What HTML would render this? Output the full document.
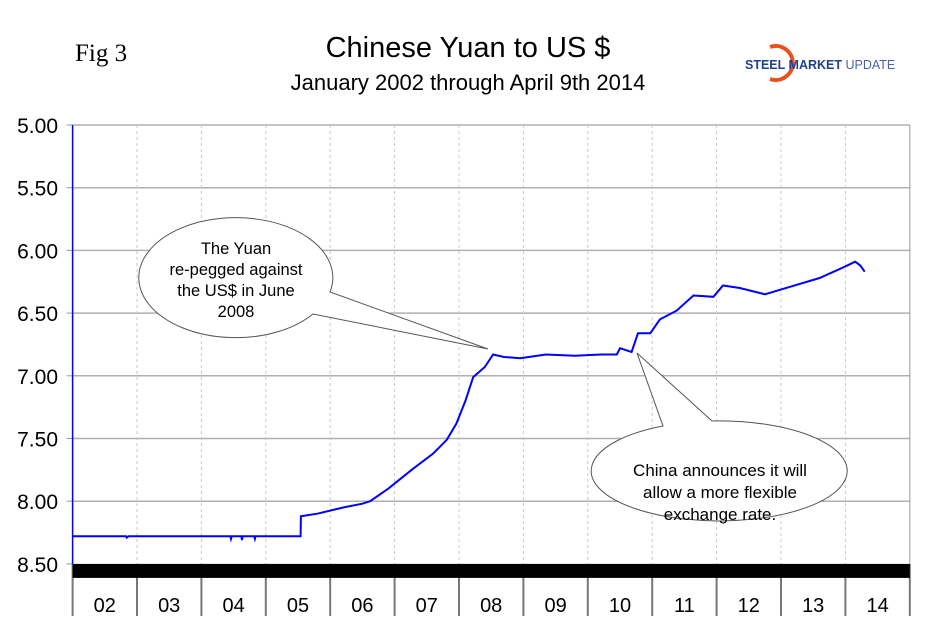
<!DOCTYPE html>
<html><head><meta charset="utf-8"><style>
body{margin:0;background:#fff;}
svg{display:block;font-family:"Liberation Sans",sans-serif;}
</style></head><body>
<svg width="942" height="637" viewBox="0 0 942 637">
<text x="75" y="61" font-family="Liberation Serif,serif" font-size="25">Fig 3</text>
<text x="468" y="57" text-anchor="middle" font-size="29">Chinese Yuan to US $</text>
<text x="468" y="90" text-anchor="middle" font-size="22">January 2002 through April 9th 2014</text>
<g>
<path d="M770 47 A17 17 0 1 1 770 79" fill="none" stroke="#e8501e" stroke-width="4"/>
<text x="745" y="69" font-size="12.5" font-weight="bold" fill="#1f3f8f">STEEL <tspan fill="#1f3f8f">MARKET</tspan> <tspan font-weight="normal" fill="#4a62a8">UPDATE</tspan></text>
</g>
<g id="grid"></g>
<g id="axes"></g>
<path id="series" fill="none" stroke="#0000ff" stroke-width="2"/>
<g>
<path d="M330 292 A97 60 0 1 0 313 314 L488 349 Z" fill="#fff" stroke="#555" stroke-width="1"/>
<text text-anchor="middle" font-size="16.5"><tspan x="236" y="254">The Yuan</tspan><tspan x="236" y="275">re-pegged against</tspan><tspan x="236" y="296">the US$ in June</tspan><tspan x="236" y="317">2008</tspan></text>
</g>
<g>
<path d="M663 426 A128 50 0 1 0 712 421 L637 353 Z" fill="#fff" stroke="#555" stroke-width="1"/>
<text text-anchor="middle" font-size="17"><tspan x="720" y="476">China announces it will</tspan><tspan x="720" y="498">allow a more flexible</tspan><tspan x="720" y="520">exchange rate.</tspan></text>
</g>
</svg>
<script>
const yearTicks=["02","03","04","05","06","07","08","09","10","11","12","13","14"];
const valueTicks=["5.00","5.50","6.00","6.50","7.00","7.50","8.00","8.50"];
const dates=[2002.0,2002.83,2002.84,2002.87,2004.45,2004.46,2004.47,2004.62,2004.63,2004.64,2004.82,2004.83,2004.84,2005.54,2005.545,2005.8,2006.2,2006.5,2006.62,2006.9,2007.29,2007.6,2007.81,2007.96,2008.1,2008.22,2008.4,2008.53,2008.7,2008.95,2009.35,2009.8,2010.2,2010.45,2010.5,2010.68,2010.78,2010.97,2011.12,2011.38,2011.64,2011.95,2012.1,2012.36,2012.75,2013.14,2013.6,2013.99,2014.15,2014.23,2014.3];
const rates=[8.28,8.28,8.29,8.28,8.28,8.30,8.28,8.28,8.31,8.28,8.28,8.30,8.28,8.28,8.12,8.10,8.05,8.02,8.0,7.9,7.74,7.62,7.51,7.38,7.2,7.01,6.93,6.83,6.85,6.86,6.83,6.84,6.83,6.83,6.78,6.81,6.66,6.66,6.55,6.48,6.36,6.37,6.28,6.30,6.35,6.29,6.22,6.13,6.09,6.12,6.17];
const ns="http://www.w3.org/2000/svg";
const X0=72.6,COLW=64.4,Y0=125,PPU=125.4;
const xScale=y=>X0+(y-2002)*COLW;
const yScale=v=>Y0+(v-5)*PPU;
const XR=X0+COLW*yearTicks.length;
const grid=document.getElementById('grid'),axes=document.getElementById('axes');
function mk(tag,attrs,parent){const e=document.createElementNS(ns,tag);for(const k in attrs)e.setAttribute(k,attrs[k]);parent.appendChild(e);return e;}
valueTicks.forEach((t,i)=>{
 const y=yScale(parseFloat(t));
 if(i<valueTicks.length-1){const l=mk('line',{x1:X0,x2:XR,y1:y,y2:y,stroke:'#b0b0b0','stroke-width':1.5},grid);
 
 }
 const tk=mk('line',{x1:X0-6,x2:X0,y1:y,y2:y,stroke:'#999'},axes);
 
 
 const tx=mk('text',{x:58,y:y+8,'text-anchor':'end','font-size':21},axes);
 tx.textContent=t;
 
 
});
const yb=yScale(8.5);
yearTicks.forEach((t,i)=>{
 const x=X0+i*COLW;
 if(i>0){const l=mk('line',{x1:x,x2:x,y1:Y0,y2:yb,stroke:'#c8c8c8','stroke-dasharray':'3,3'},grid);
 
 }
 const s=mk('line',{x1:x,x2:x,y1:yb,y2:616,stroke:'#777','stroke-width':2},axes);
 
 
 const tx=mk('text',{x:x+COLW/2,y:612,'text-anchor':'middle','font-size':20},axes);
 tx.textContent=t;
 
 
});
const s2=mk('line',{x1:XR,x2:XR,y1:yb,y2:616,stroke:'#777','stroke-width':2},axes);


const rb=mk('line',{x1:XR,x2:XR,y1:Y0,y2:yb,stroke:'#999'},axes);


const ya=mk('line',{x1:X0,x2:X0,y1:Y0,y2:yb,stroke:'#0000ff','stroke-width':1.5},axes);


const bar=mk('rect',{x:X0,y:yb,width:XR-X0,height:14,fill:'#000'},axes);


document.getElementById('series').setAttribute('d',dates.map((d,i)=>(i?'L':'M')+xScale(d).toFixed(1)+' '+yScale(rates[i]).toFixed(1)).join(' '));
</script>
</body></html>
